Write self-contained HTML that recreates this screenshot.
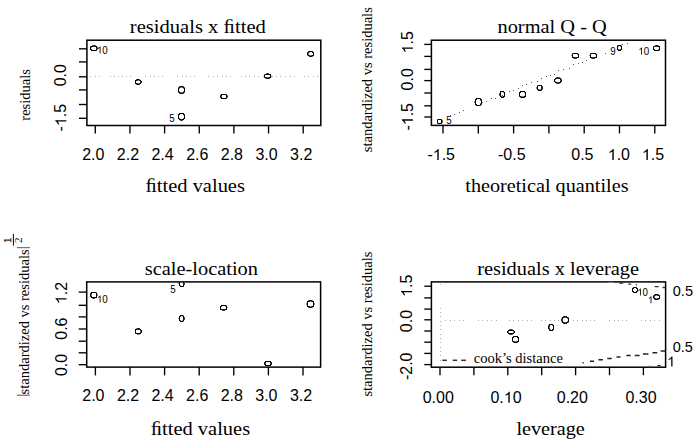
<!DOCTYPE html>
<html><head><meta charset="utf-8"><title>plot</title>
<style>
html,body{margin:0;padding:0;background:#fff;width:699px;height:442px;overflow:hidden}
svg{display:block}
.sf{font-family:"Liberation Serif", serif;fill:#000}
.ss{font-family:"Liberation Sans", sans-serif;fill:#000}
</style></head><body>
<svg width="699" height="442" viewBox="0 0 699 442">
<rect width="699" height="442" fill="#fff"/>
<text class="sf" transform="translate(197.8,32.9) scale(1,0.955)" font-size="20.58972" text-anchor="middle" >residuals x &#xFB01;tted</text>
<path d="M90 76h1v1h-1zM95 76h1v1h-1zM99 76h1v1h-1zM110 76h1v1h-1zM114 76h1v1h-1zM118 76h1v1h-1zM122 76h1v1h-1zM126 76h1v1h-1zM130 76h1v1h-1zM145 76h1v1h-1zM150 76h1v1h-1zM154 76h1v1h-1zM158 76h1v1h-1zM162 76h1v1h-1zM177 76h1v1h-1zM182 76h1v1h-1zM186 76h1v1h-1zM190 76h1v1h-1zM194 76h1v1h-1zM208 76h1v1h-1zM213 76h1v1h-1zM217 76h1v1h-1zM222 76h1v1h-1zM226 76h1v1h-1zM230 76h1v1h-1zM241 76h1v1h-1zM245 76h1v1h-1zM249 76h1v1h-1zM254 76h1v1h-1zM258 76h1v1h-1zM263 76h1v1h-1zM272 76h1v1h-1zM276 76h1v1h-1zM280 76h1v1h-1zM285 76h1v1h-1zM290 76h1v1h-1zM294 76h1v1h-1zM304 76h1v1h-1zM308 76h1v1h-1zM313 76h1v1h-1zM317 76h1v1h-1z" fill="#aeaeae"/>
<rect x="86.9" y="40.2" width="233.9" height="85.3" fill="none" stroke="#000" stroke-width="1.5"/>
<line x1="79" y1="48.8" x2="86.9" y2="48.8" stroke="#000" stroke-width="1.35"/>
<line x1="79" y1="61.9" x2="86.9" y2="61.9" stroke="#000" stroke-width="1.35"/>
<line x1="79" y1="76.8" x2="86.9" y2="76.8" stroke="#000" stroke-width="1.35"/>
<line x1="79" y1="89.9" x2="86.9" y2="89.9" stroke="#000" stroke-width="1.35"/>
<line x1="79" y1="104.5" x2="86.9" y2="104.5" stroke="#000" stroke-width="1.35"/>
<line x1="79" y1="118.3" x2="86.9" y2="118.3" stroke="#000" stroke-width="1.35"/>
<line x1="95.3" y1="125.5" x2="95.3" y2="133.5" stroke="#000" stroke-width="1.35"/>
<line x1="129.95" y1="125.5" x2="129.95" y2="133.5" stroke="#000" stroke-width="1.35"/>
<line x1="164.6" y1="125.5" x2="164.6" y2="133.5" stroke="#000" stroke-width="1.35"/>
<line x1="199.25" y1="125.5" x2="199.25" y2="133.5" stroke="#000" stroke-width="1.35"/>
<line x1="233.89999999999998" y1="125.5" x2="233.89999999999998" y2="133.5" stroke="#000" stroke-width="1.35"/>
<line x1="268.55" y1="125.5" x2="268.55" y2="133.5" stroke="#000" stroke-width="1.35"/>
<line x1="303.2" y1="125.5" x2="303.2" y2="133.5" stroke="#000" stroke-width="1.35"/>
<text class="ss" transform="translate(93.3,160)" font-size="16" text-anchor="middle" >2.0</text>
<text class="ss" transform="translate(127.94999999999999,160)" font-size="16" text-anchor="middle" >2.2</text>
<text class="ss" transform="translate(162.6,160)" font-size="16" text-anchor="middle" >2.4</text>
<text class="ss" transform="translate(197.25,160)" font-size="16" text-anchor="middle" >2.6</text>
<text class="ss" transform="translate(231.89999999999998,160)" font-size="16" text-anchor="middle" >2.8</text>
<text class="ss" transform="translate(266.55,160)" font-size="16" text-anchor="middle" >3.0</text>
<text class="ss" transform="translate(301.2,160)" font-size="16" text-anchor="middle" >3.2</text>
<text class="ss" transform="translate(66.3,75.2) rotate(-90)" font-size="16" text-anchor="middle" >0.0</text>
<g class="ss" transform="translate(66.3,117.7) rotate(-90)"><text font-size="16" text-anchor="middle" >- .5</text><path d="M763 0L583 0L583 1147Q518 1085 412.5 1023Q307 961 223 930L223 1104Q374 1175 487 1276Q600 1377 647 1466L763 1466Z" transform="translate(-8.457,0) scale(0.00781,-0.00751)"/></g>
<text class="sf" transform="translate(29.8,94.9) rotate(-90)" font-size="14.5" text-anchor="middle" >residuals</text>
<text class="sf" transform="translate(195.2,192.3) scale(1,0.955)" font-size="20.460579999999997" text-anchor="middle" >&#xFB01;tted values</text>
<path d="M92 45h1v1h-1zM97 47h1v1h-1z" fill="#4d4d4d"/>
<path d="M93 45h1v1h-1zM94 45h1v1h-1zM93 46h1v1h-1zM94 46h1v1h-1zM96 48h1v1h-1zM97 48h1v1h-1zM96 50h1v1h-1z" fill="#333333"/>
<path d="M95 45h1v1h-1zM90 46h1v1h-1z" fill="#666666"/>
<path d="M91 46h1v1h-1zM92 46h1v1h-1zM95 46h1v1h-1zM96 46h1v1h-1zM90 47h1v1h-1zM96 47h1v1h-1zM90 48h1v1h-1zM90 49h1v1h-1zM96 49h1v1h-1zM91 50h1v1h-1zM92 50h1v1h-1zM93 50h1v1h-1zM94 50h1v1h-1zM95 50h1v1h-1z" fill="#000000"/>
<path d="M91 47h1v1h-1zM97 49h1v1h-1z" fill="#808080"/>
<path d="M91 49h1v1h-1z" fill="#191919"/>
<path d="M136 79h1v1h-1zM137 80h1v1h-1zM137 83h1v1h-1zM136 84h1v1h-1z" fill="#4d4d4d"/>
<path d="M137 79h1v1h-1zM138 79h1v1h-1zM135 80h1v1h-1zM136 80h1v1h-1zM140 80h1v1h-1zM135 81h1v1h-1zM135 82h1v1h-1zM135 83h1v1h-1zM136 83h1v1h-1zM140 83h1v1h-1zM137 84h1v1h-1zM138 84h1v1h-1z" fill="#000000"/>
<path d="M139 79h1v1h-1zM139 80h1v1h-1zM140 81h1v1h-1zM140 82h1v1h-1zM139 83h1v1h-1zM139 84h1v1h-1z" fill="#333333"/>
<path d="M138 80h1v1h-1zM138 83h1v1h-1z" fill="#808080"/>
<path d="M141 81h1v1h-1zM141 82h1v1h-1z" fill="#191919"/>
<path d="M179 86h1v1h-1zM183 86h1v1h-1zM178 87h1v1h-1zM180 87h1v1h-1zM182 87h1v1h-1zM184 87h1v1h-1zM178 92h1v1h-1zM180 92h1v1h-1zM182 92h1v1h-1zM184 92h1v1h-1zM179 93h1v1h-1zM183 93h1v1h-1z" fill="#666666"/>
<path d="M180 86h1v1h-1zM181 86h1v1h-1zM182 86h1v1h-1zM179 87h1v1h-1zM183 87h1v1h-1zM178 88h1v1h-1zM184 88h1v1h-1zM178 89h1v1h-1zM184 89h1v1h-1zM178 90h1v1h-1zM184 90h1v1h-1zM178 91h1v1h-1zM184 91h1v1h-1zM179 92h1v1h-1zM183 92h1v1h-1zM180 93h1v1h-1zM181 93h1v1h-1zM182 93h1v1h-1z" fill="#000000"/>
<path d="M181 87h1v1h-1zM179 88h1v1h-1zM183 88h1v1h-1zM179 91h1v1h-1zM183 91h1v1h-1zM181 92h1v1h-1z" fill="#808080"/>
<path d="M179 113h1v1h-1zM180 113h1v1h-1zM181 113h1v1h-1zM182 113h1v1h-1zM183 113h1v1h-1zM179 114h1v1h-1zM183 114h1v1h-1zM178 115h1v1h-1zM184 115h1v1h-1zM178 116h1v1h-1zM184 116h1v1h-1zM178 117h1v1h-1zM184 117h1v1h-1zM178 118h1v1h-1zM184 118h1v1h-1zM179 119h1v1h-1zM180 119h1v1h-1zM182 119h1v1h-1zM183 119h1v1h-1z" fill="#000000"/>
<path d="M178 114h1v1h-1zM184 114h1v1h-1z" fill="#191919"/>
<path d="M179 118h1v1h-1zM183 118h1v1h-1zM180 120h1v1h-1zM182 120h1v1h-1z" fill="#4d4d4d"/>
<path d="M181 119h1v1h-1zM181 120h1v1h-1z" fill="#333333"/>
<path d="M221 94h1v1h-1zM222 94h1v1h-1zM223 94h1v1h-1zM224 94h1v1h-1zM225 94h1v1h-1zM221 95h1v1h-1zM226 95h1v1h-1zM220 96h1v1h-1zM226 96h1v1h-1zM221 97h1v1h-1zM226 97h1v1h-1zM221 98h1v1h-1zM222 98h1v1h-1zM223 98h1v1h-1zM224 98h1v1h-1zM225 98h1v1h-1z" fill="#000000"/>
<path d="M226 94h1v1h-1zM226 98h1v1h-1z" fill="#4d4d4d"/>
<path d="M220 95h1v1h-1zM227 96h1v1h-1zM220 97h1v1h-1z" fill="#333333"/>
<path d="M227 95h1v1h-1zM227 97h1v1h-1z" fill="#808080"/>
<path d="M221 96h1v1h-1z" fill="#666666"/>
<path d="M266 73h1v1h-1zM264 74h1v1h-1z" fill="#666666"/>
<path d="M267 73h1v1h-1zM264 77h1v1h-1zM266 77h1v1h-1z" fill="#333333"/>
<path d="M268 73h1v1h-1zM268 77h1v1h-1zM269 78h1v1h-1z" fill="#4d4d4d"/>
<path d="M265 74h1v1h-1zM266 74h1v1h-1zM267 74h1v1h-1zM268 74h1v1h-1zM269 74h1v1h-1zM270 74h1v1h-1zM264 75h1v1h-1zM270 75h1v1h-1zM264 76h1v1h-1zM270 76h1v1h-1zM265 77h1v1h-1zM269 77h1v1h-1zM270 77h1v1h-1zM267 78h1v1h-1zM268 78h1v1h-1z" fill="#000000"/>
<path d="M271 76h1v1h-1zM267 77h1v1h-1zM265 78h1v1h-1z" fill="#808080"/>
<path d="M266 78h1v1h-1z" fill="#191919"/>
<path d="M308 51h1v1h-1zM311 55h1v1h-1z" fill="#4d4d4d"/>
<path d="M309 51h1v1h-1zM310 51h1v1h-1zM311 51h1v1h-1zM308 52h1v1h-1zM312 52h1v1h-1zM313 52h1v1h-1zM307 53h1v1h-1zM313 53h1v1h-1zM307 54h1v1h-1zM313 54h1v1h-1zM308 55h1v1h-1zM312 55h1v1h-1zM310 56h1v1h-1z" fill="#000000"/>
<path d="M312 51h1v1h-1zM307 52h1v1h-1zM309 55h1v1h-1z" fill="#333333"/>
<path d="M309 52h1v1h-1zM308 53h1v1h-1zM307 55h1v1h-1zM310 55h1v1h-1z" fill="#808080"/>
<path d="M308 54h1v1h-1zM312 56h1v1h-1z" fill="#666666"/>
<path d="M313 55h1v1h-1zM309 56h1v1h-1zM311 56h1v1h-1z" fill="#191919"/>
<g class="ss idl" transform="translate(96.86,53.59) scale(0.94,1)"><text font-size="10.4" text-anchor="start" > 0</text><path d="M763 0L583 0L583 1147Q518 1085 412.5 1023Q307 961 223 930L223 1104Q374 1175 487 1276Q600 1377 647 1466L763 1466Z" transform="translate(0.000,0) scale(0.00508,-0.00488)"/></g>
<text class="ss idl" transform="translate(169.2,122.49) scale(0.94,1)" font-size="10.4" text-anchor="start" >5</text>
<text class="sf" transform="translate(552.1,33) scale(1,0.955)" font-size="20.4" text-anchor="middle" >normal Q - Q</text>
<path d="M450 115h1v1h-1zM454 114h1v1h-1zM459 112h1v1h-1zM463 110h1v1h-1zM482 102h1v1h-1zM486 101h1v1h-1zM491 98h1v1h-1zM495 98h1v1h-1zM502 95h1v1h-1zM509 91h1v1h-1zM513 90h1v1h-1zM518 88h1v1h-1zM522 85h1v1h-1zM526 84h1v1h-1zM531 82h1v1h-1zM537 81h1v1h-1zM541 78h1v1h-1zM546 76h1v1h-1zM550 75h1v1h-1zM554 74h1v1h-1zM558 70h1v1h-1zM563 69h1v1h-1zM569 68h1v1h-1zM573 64h1v1h-1zM578 63h1v1h-1zM582 62h1v1h-1zM586 60h1v1h-1zM605 53h1v1h-1zM622 44h1v1h-1zM627 43h1v1h-1z" fill="#5a5a5a"/>
<rect x="431.4" y="40.2" width="234.10000000000002" height="85.2" fill="none" stroke="#000" stroke-width="1.5"/>
<line x1="424.3" y1="44.4" x2="431.4" y2="44.4" stroke="#000" stroke-width="1.35"/>
<line x1="424.3" y1="56.4" x2="431.4" y2="56.4" stroke="#000" stroke-width="1.35"/>
<line x1="424.3" y1="69.4" x2="431.4" y2="69.4" stroke="#000" stroke-width="1.35"/>
<line x1="424.3" y1="80.6" x2="431.4" y2="80.6" stroke="#000" stroke-width="1.35"/>
<line x1="424.3" y1="93" x2="431.4" y2="93" stroke="#000" stroke-width="1.35"/>
<line x1="424.3" y1="105.8" x2="431.4" y2="105.8" stroke="#000" stroke-width="1.35"/>
<line x1="424.3" y1="117" x2="431.4" y2="117" stroke="#000" stroke-width="1.35"/>
<line x1="443.0" y1="125.4" x2="443.0" y2="133.4" stroke="#000" stroke-width="1.35"/>
<line x1="478.3" y1="125.4" x2="478.3" y2="133.4" stroke="#000" stroke-width="1.35"/>
<line x1="513.6" y1="125.4" x2="513.6" y2="133.4" stroke="#000" stroke-width="1.35"/>
<line x1="548.9" y1="125.4" x2="548.9" y2="133.4" stroke="#000" stroke-width="1.35"/>
<line x1="584.2" y1="125.4" x2="584.2" y2="133.4" stroke="#000" stroke-width="1.35"/>
<line x1="619.5" y1="125.4" x2="619.5" y2="133.4" stroke="#000" stroke-width="1.35"/>
<line x1="654.8" y1="125.4" x2="654.8" y2="133.4" stroke="#000" stroke-width="1.35"/>
<g class="ss" transform="translate(441.2,160)"><text font-size="16" text-anchor="middle" >- .5</text><path d="M763 0L583 0L583 1147Q518 1085 412.5 1023Q307 961 223 930L223 1104Q374 1175 487 1276Q600 1377 647 1466L763 1466Z" transform="translate(-8.457,0) scale(0.00781,-0.00751)"/></g>
<text class="ss" transform="translate(511.8,160)" font-size="16" text-anchor="middle" >-0.5</text>
<text class="ss" transform="translate(582.4000000000001,160)" font-size="16" text-anchor="middle" >0.5</text>
<g class="ss" transform="translate(618.9000000000001,160)"><text font-size="16" text-anchor="middle" > .0</text><path d="M763 0L583 0L583 1147Q518 1085 412.5 1023Q307 961 223 930L223 1104Q374 1175 487 1276Q600 1377 647 1466L763 1466Z" transform="translate(-11.121,0) scale(0.00781,-0.00751)"/></g>
<g class="ss" transform="translate(653.0,160)"><text font-size="16" text-anchor="middle" > .5</text><path d="M763 0L583 0L583 1147Q518 1085 412.5 1023Q307 961 223 930L223 1104Q374 1175 487 1276Q600 1377 647 1466L763 1466Z" transform="translate(-11.121,0) scale(0.00781,-0.00751)"/></g>
<g class="ss" transform="translate(412.9,42.3) rotate(-90)"><text font-size="16" text-anchor="middle" > .5</text><path d="M763 0L583 0L583 1147Q518 1085 412.5 1023Q307 961 223 930L223 1104Q374 1175 487 1276Q600 1377 647 1466L763 1466Z" transform="translate(-11.121,0) scale(0.00781,-0.00751)"/></g>
<text class="ss" transform="translate(412.9,79.3) rotate(-90)" font-size="16" text-anchor="middle" >0.0</text>
<g class="ss" transform="translate(412.9,116.8) rotate(-90)"><text font-size="16" text-anchor="middle" >- .5</text><path d="M763 0L583 0L583 1147Q518 1085 412.5 1023Q307 961 223 930L223 1104Q374 1175 487 1276Q600 1377 647 1466L763 1466Z" transform="translate(-8.457,0) scale(0.00781,-0.00751)"/></g>
<text class="sf" transform="translate(372.2,79.7) rotate(-90)" font-size="14.5" text-anchor="middle" >standardized vs residuals</text>
<text class="sf" transform="translate(546.9,192.3) scale(1,0.955)" font-size="20.2" text-anchor="middle" >theoretical quantiles</text>
<path d="M437 119h1v1h-1zM437 123h1v1h-1z" fill="#666666"/>
<path d="M438 119h1v1h-1zM439 119h1v1h-1zM440 119h1v1h-1zM437 120h1v1h-1zM441 120h1v1h-1zM437 121h1v1h-1zM441 121h1v1h-1zM437 122h1v1h-1zM441 122h1v1h-1zM438 123h1v1h-1zM439 123h1v1h-1zM440 123h1v1h-1z" fill="#000000"/>
<path d="M441 119h1v1h-1zM442 121h1v1h-1zM441 123h1v1h-1z" fill="#333333"/>
<path d="M442 120h1v1h-1zM442 122h1v1h-1z" fill="#808080"/>
<path d="M476 98h1v1h-1zM477 98h1v1h-1zM478 98h1v1h-1zM479 98h1v1h-1zM475 99h1v1h-1zM480 99h1v1h-1zM475 100h1v1h-1zM481 100h1v1h-1zM475 101h1v1h-1zM481 101h1v1h-1zM475 102h1v1h-1zM481 102h1v1h-1zM475 103h1v1h-1zM481 103h1v1h-1zM475 104h1v1h-1zM480 104h1v1h-1zM476 105h1v1h-1zM477 105h1v1h-1zM478 105h1v1h-1zM479 105h1v1h-1z" fill="#000000"/>
<path d="M480 98h1v1h-1zM480 105h1v1h-1z" fill="#333333"/>
<path d="M476 99h1v1h-1zM476 104h1v1h-1z" fill="#191919"/>
<path d="M481 99h1v1h-1zM481 104h1v1h-1z" fill="#4d4d4d"/>
<path d="M480 100h1v1h-1zM474 101h1v1h-1zM474 102h1v1h-1zM480 103h1v1h-1z" fill="#808080"/>
<path d="M500 91h1v1h-1zM501 91h1v1h-1zM502 91h1v1h-1zM503 91h1v1h-1zM500 92h1v1h-1zM504 92h1v1h-1zM500 93h1v1h-1zM504 93h1v1h-1zM500 94h1v1h-1zM504 94h1v1h-1zM500 95h1v1h-1zM504 95h1v1h-1zM500 96h1v1h-1zM503 96h1v1h-1zM504 96h1v1h-1zM501 97h1v1h-1zM502 97h1v1h-1z" fill="#000000"/>
<path d="M503 92h1v1h-1zM499 95h1v1h-1zM502 96h1v1h-1z" fill="#808080"/>
<path d="M499 93h1v1h-1zM501 96h1v1h-1z" fill="#4d4d4d"/>
<path d="M499 94h1v1h-1z" fill="#333333"/>
<path d="M503 97h1v1h-1z" fill="#191919"/>
<path d="M520 91h1v1h-1zM521 91h1v1h-1zM522 91h1v1h-1zM523 91h1v1h-1zM524 91h1v1h-1zM519 92h1v1h-1zM525 92h1v1h-1zM519 93h1v1h-1zM525 93h1v1h-1zM519 94h1v1h-1zM525 94h1v1h-1zM519 95h1v1h-1zM525 95h1v1h-1zM520 96h1v1h-1zM524 96h1v1h-1zM525 96h1v1h-1zM521 97h1v1h-1zM522 97h1v1h-1zM523 97h1v1h-1z" fill="#000000"/>
<path d="M520 92h1v1h-1z" fill="#191919"/>
<path d="M524 92h1v1h-1z" fill="#4d4d4d"/>
<path d="M519 96h1v1h-1zM524 97h1v1h-1z" fill="#333333"/>
<path d="M521 96h1v1h-1zM520 97h1v1h-1z" fill="#666666"/>
<path d="M522 96h1v1h-1zM523 96h1v1h-1z" fill="#808080"/>
<path d="M537 85h1v1h-1zM538 89h1v1h-1z" fill="#4d4d4d"/>
<path d="M538 85h1v1h-1zM539 85h1v1h-1zM540 85h1v1h-1zM537 86h1v1h-1zM541 86h1v1h-1zM537 87h1v1h-1zM537 88h1v1h-1zM537 89h1v1h-1zM541 89h1v1h-1zM538 90h1v1h-1zM539 90h1v1h-1zM540 90h1v1h-1z" fill="#000000"/>
<path d="M541 85h1v1h-1zM542 87h1v1h-1zM542 88h1v1h-1z" fill="#191919"/>
<path d="M542 86h1v1h-1zM540 89h1v1h-1zM541 90h1v1h-1z" fill="#666666"/>
<path d="M536 87h1v1h-1zM536 88h1v1h-1zM539 89h1v1h-1zM542 89h1v1h-1z" fill="#808080"/>
<path d="M541 87h1v1h-1zM541 88h1v1h-1z" fill="#333333"/>
<path d="M556 77h1v1h-1zM559 77h1v1h-1zM555 79h1v1h-1zM560 80h1v1h-1zM555 81h1v1h-1zM556 83h1v1h-1zM559 83h1v1h-1z" fill="#666666"/>
<path d="M557 77h1v1h-1zM558 77h1v1h-1zM557 78h1v1h-1zM558 78h1v1h-1zM561 79h1v1h-1zM561 81h1v1h-1zM557 82h1v1h-1zM558 82h1v1h-1zM557 83h1v1h-1zM558 83h1v1h-1z" fill="#333333"/>
<path d="M555 78h1v1h-1zM556 78h1v1h-1zM559 78h1v1h-1zM560 78h1v1h-1zM554 79h1v1h-1zM560 79h1v1h-1zM554 80h1v1h-1zM561 80h1v1h-1zM554 81h1v1h-1zM560 81h1v1h-1zM555 82h1v1h-1zM556 82h1v1h-1zM559 82h1v1h-1zM560 82h1v1h-1z" fill="#000000"/>
<path d="M572 53h1v1h-1zM577 54h1v1h-1z" fill="#666666"/>
<path d="M573 53h1v1h-1zM574 53h1v1h-1zM575 53h1v1h-1zM576 53h1v1h-1zM577 53h1v1h-1zM572 54h1v1h-1zM578 54h1v1h-1zM572 55h1v1h-1zM578 55h1v1h-1zM572 56h1v1h-1zM578 56h1v1h-1zM572 57h1v1h-1zM573 57h1v1h-1zM577 57h1v1h-1zM578 57h1v1h-1z" fill="#000000"/>
<path d="M571 55h1v1h-1zM573 58h1v1h-1z" fill="#808080"/>
<path d="M574 57h1v1h-1zM575 57h1v1h-1zM574 58h1v1h-1zM575 58h1v1h-1zM576 58h1v1h-1z" fill="#333333"/>
<path d="M576 57h1v1h-1z" fill="#191919"/>
<path d="M590 53h1v1h-1zM595 54h1v1h-1z" fill="#666666"/>
<path d="M591 53h1v1h-1zM592 53h1v1h-1zM593 53h1v1h-1zM594 53h1v1h-1zM595 53h1v1h-1zM590 54h1v1h-1zM596 54h1v1h-1zM590 55h1v1h-1zM596 55h1v1h-1zM590 56h1v1h-1zM596 56h1v1h-1zM590 57h1v1h-1zM591 57h1v1h-1zM595 57h1v1h-1zM596 57h1v1h-1z" fill="#000000"/>
<path d="M589 55h1v1h-1zM591 58h1v1h-1z" fill="#808080"/>
<path d="M592 57h1v1h-1zM593 57h1v1h-1zM592 58h1v1h-1zM593 58h1v1h-1zM594 58h1v1h-1z" fill="#333333"/>
<path d="M594 57h1v1h-1z" fill="#191919"/>
<path d="M617 45h1v1h-1zM621 45h1v1h-1zM618 46h1v1h-1zM620 46h1v1h-1zM619 49h1v1h-1z" fill="#808080"/>
<path d="M618 45h1v1h-1zM619 45h1v1h-1zM620 45h1v1h-1zM617 46h1v1h-1zM621 46h1v1h-1zM617 47h1v1h-1zM621 47h1v1h-1zM617 48h1v1h-1zM621 48h1v1h-1zM617 49h1v1h-1zM621 49h1v1h-1zM618 50h1v1h-1zM619 50h1v1h-1zM620 50h1v1h-1z" fill="#000000"/>
<path d="M618 49h1v1h-1zM620 49h1v1h-1z" fill="#333333"/>
<path d="M655 45h1v1h-1zM657 45h1v1h-1zM655 46h1v1h-1zM656 46h1v1h-1zM657 46h1v1h-1zM654 49h1v1h-1z" fill="#333333"/>
<path d="M656 45h1v1h-1zM654 46h1v1h-1zM658 46h1v1h-1zM659 46h1v1h-1zM653 47h1v1h-1zM659 47h1v1h-1zM653 48h1v1h-1zM659 48h1v1h-1zM653 49h1v1h-1zM659 49h1v1h-1zM654 50h1v1h-1zM655 50h1v1h-1zM656 50h1v1h-1zM657 50h1v1h-1zM658 50h1v1h-1z" fill="#000000"/>
<path d="M658 45h1v1h-1zM658 49h1v1h-1zM659 50h1v1h-1z" fill="#808080"/>
<path d="M653 46h1v1h-1z" fill="#4d4d4d"/>
<text class="ss idl" transform="translate(446.26,124.03) scale(0.94,1)" font-size="10.4" text-anchor="start" >5</text>
<text class="ss idl" transform="translate(610.21,55.11) scale(0.94,1)" font-size="10.4" text-anchor="start" >9</text>
<g class="ss idl" transform="translate(638.32,54.59) scale(0.94,1)"><text font-size="10.4" text-anchor="start" > 0</text><path d="M763 0L583 0L583 1147Q518 1085 412.5 1023Q307 961 223 930L223 1104Q374 1175 487 1276Q600 1377 647 1466L763 1466Z" transform="translate(0.000,0) scale(0.00508,-0.00488)"/></g>
<text class="sf" transform="translate(201.4,275) scale(1,0.955)" font-size="20.4" text-anchor="middle" >scale-location</text>
<rect x="86.7" y="281.9" width="233.90000000000003" height="85.20000000000005" fill="none" stroke="#000" stroke-width="1.5"/>
<line x1="78.7" y1="292.1" x2="86.7" y2="292.1" stroke="#000" stroke-width="1.35"/>
<line x1="78.7" y1="305.3" x2="86.7" y2="305.3" stroke="#000" stroke-width="1.35"/>
<line x1="78.7" y1="316.9" x2="86.7" y2="316.9" stroke="#000" stroke-width="1.35"/>
<line x1="78.7" y1="329" x2="86.7" y2="329" stroke="#000" stroke-width="1.35"/>
<line x1="78.7" y1="341.2" x2="86.7" y2="341.2" stroke="#000" stroke-width="1.35"/>
<line x1="78.7" y1="352.8" x2="86.7" y2="352.8" stroke="#000" stroke-width="1.35"/>
<line x1="78.7" y1="364.7" x2="86.7" y2="364.7" stroke="#000" stroke-width="1.35"/>
<line x1="95.4" y1="367.1" x2="95.4" y2="375.4" stroke="#000" stroke-width="1.35"/>
<line x1="130.0" y1="367.1" x2="130.0" y2="375.4" stroke="#000" stroke-width="1.35"/>
<line x1="164.60000000000002" y1="367.1" x2="164.60000000000002" y2="375.4" stroke="#000" stroke-width="1.35"/>
<line x1="199.20000000000002" y1="367.1" x2="199.20000000000002" y2="375.4" stroke="#000" stroke-width="1.35"/>
<line x1="233.8" y1="367.1" x2="233.8" y2="375.4" stroke="#000" stroke-width="1.35"/>
<line x1="268.4" y1="367.1" x2="268.4" y2="375.4" stroke="#000" stroke-width="1.35"/>
<line x1="303.0" y1="367.1" x2="303.0" y2="375.4" stroke="#000" stroke-width="1.35"/>
<text class="ss" transform="translate(93.4,400.8)" font-size="16" text-anchor="middle" >2.0</text>
<text class="ss" transform="translate(128.0,400.8)" font-size="16" text-anchor="middle" >2.2</text>
<text class="ss" transform="translate(162.60000000000002,400.8)" font-size="16" text-anchor="middle" >2.4</text>
<text class="ss" transform="translate(197.20000000000002,400.8)" font-size="16" text-anchor="middle" >2.6</text>
<text class="ss" transform="translate(231.8,400.8)" font-size="16" text-anchor="middle" >2.8</text>
<text class="ss" transform="translate(266.4,400.8)" font-size="16" text-anchor="middle" >3.0</text>
<text class="ss" transform="translate(301.0,400.8)" font-size="16" text-anchor="middle" >3.2</text>
<g class="ss" transform="translate(66.5,293) rotate(-90)"><text font-size="16" text-anchor="middle" > .2</text><path d="M763 0L583 0L583 1147Q518 1085 412.5 1023Q307 961 223 930L223 1104Q374 1175 487 1276Q600 1377 647 1466L763 1466Z" transform="translate(-11.121,0) scale(0.00781,-0.00751)"/></g>
<text class="ss" transform="translate(66.5,328.6) rotate(-90)" font-size="16" text-anchor="middle" >0.6</text>
<text class="ss" transform="translate(66.5,364.9) rotate(-90)" font-size="16" text-anchor="middle" >0.0</text>
<text class="sf" transform="translate(200.4,434.6) scale(1,0.955)" font-size="20.460579999999997" text-anchor="middle" >&#xFB01;tted values</text>
<text class="sf" transform="translate(28.5,321.9) rotate(-90)" font-size="14.5" text-anchor="middle" >standardized vs residuals</text>
<line x1="16.8" y1="247.7" x2="29.9" y2="247.7" stroke="#555" stroke-width="1.0"/>
<line x1="16.8" y1="395.2" x2="29.9" y2="395.2" stroke="#555" stroke-width="1.0"/>
<line x1="13.4" y1="234" x2="13.4" y2="245.6" stroke="#000" stroke-width="1.0"/>
<text class="sf" transform="translate(10.6,240.3) rotate(-90)" font-size="10.8" text-anchor="middle" stroke="#000" stroke-width="0.3">1</text>
<text class="sf" transform="translate(21.9,240.3) rotate(-90)" font-size="11" text-anchor="middle" >2</text>
<clipPath id="c3"><rect x="86.7" y="281.9" width="233.90000000000003" height="85.20000000000005"/></clipPath>
<g clip-path="url(#c3)">
<path d="M91 292h1v1h-1zM92 292h1v1h-1zM93 292h1v1h-1zM94 292h1v1h-1zM95 292h1v1h-1zM91 293h1v1h-1zM96 293h1v1h-1zM90 294h1v1h-1zM96 294h1v1h-1zM90 295h1v1h-1zM96 295h1v1h-1zM91 296h1v1h-1zM96 296h1v1h-1zM91 297h1v1h-1zM92 297h1v1h-1zM93 297h1v1h-1zM94 297h1v1h-1zM95 297h1v1h-1zM96 297h1v1h-1z" fill="#000000"/>
<path d="M96 292h1v1h-1z" fill="#666666"/>
<path d="M90 293h1v1h-1zM93 298h1v1h-1z" fill="#333333"/>
<path d="M91 294h1v1h-1zM97 294h1v1h-1zM91 295h1v1h-1zM97 295h1v1h-1zM92 298h1v1h-1z" fill="#808080"/>
<path d="M90 296h1v1h-1z" fill="#191919"/>
<path d="M94 298h1v1h-1z" fill="#4d4d4d"/>
<path d="M136 328h1v1h-1zM140 331h1v1h-1zM137 334h1v1h-1zM138 334h1v1h-1zM139 334h1v1h-1z" fill="#808080"/>
<path d="M137 328h1v1h-1zM139 328h1v1h-1zM137 329h1v1h-1zM138 329h1v1h-1zM140 332h1v1h-1zM135 333h1v1h-1z" fill="#333333"/>
<path d="M138 328h1v1h-1zM135 329h1v1h-1zM136 329h1v1h-1zM140 329h1v1h-1zM135 330h1v1h-1zM141 330h1v1h-1zM135 331h1v1h-1zM141 331h1v1h-1zM135 332h1v1h-1zM136 333h1v1h-1zM137 333h1v1h-1zM138 333h1v1h-1zM139 333h1v1h-1zM140 333h1v1h-1z" fill="#000000"/>
<path d="M139 329h1v1h-1zM141 332h1v1h-1z" fill="#191919"/>
<path d="M140 330h1v1h-1z" fill="#4d4d4d"/>
<path d="M180 315h1v1h-1zM181 315h1v1h-1zM182 315h1v1h-1zM179 316h1v1h-1zM183 316h1v1h-1zM179 317h1v1h-1zM183 317h1v1h-1zM179 318h1v1h-1zM179 319h1v1h-1zM183 319h1v1h-1zM179 320h1v1h-1zM183 320h1v1h-1zM180 321h1v1h-1zM181 321h1v1h-1zM182 321h1v1h-1z" fill="#000000"/>
<path d="M183 315h1v1h-1zM182 316h1v1h-1zM178 318h1v1h-1zM182 320h1v1h-1zM183 321h1v1h-1z" fill="#808080"/>
<path d="M180 316h1v1h-1zM184 317h1v1h-1zM184 319h1v1h-1zM180 320h1v1h-1z" fill="#4d4d4d"/>
<path d="M183 318h1v1h-1zM184 318h1v1h-1z" fill="#333333"/>
<path d="M180 280h1v1h-1zM181 280h1v1h-1zM182 280h1v1h-1zM179 281h1v1h-1zM183 281h1v1h-1zM179 282h1v1h-1zM183 282h1v1h-1zM179 283h1v1h-1zM179 284h1v1h-1zM179 285h1v1h-1zM183 285h1v1h-1zM180 286h1v1h-1zM181 286h1v1h-1zM182 286h1v1h-1z" fill="#000000"/>
<path d="M180 281h1v1h-1zM183 283h1v1h-1zM184 283h1v1h-1zM183 286h1v1h-1z" fill="#333333"/>
<path d="M181 281h1v1h-1zM178 283h1v1h-1zM180 285h1v1h-1z" fill="#808080"/>
<path d="M182 281h1v1h-1zM184 282h1v1h-1zM184 284h1v1h-1z" fill="#4d4d4d"/>
<path d="M183 284h1v1h-1z" fill="#191919"/>
<path d="M221 305h1v1h-1zM222 305h1v1h-1zM223 305h1v1h-1zM224 305h1v1h-1zM225 305h1v1h-1zM220 306h1v1h-1zM226 306h1v1h-1zM220 307h1v1h-1zM226 307h1v1h-1zM220 308h1v1h-1zM226 308h1v1h-1zM221 309h1v1h-1zM222 309h1v1h-1zM225 309h1v1h-1zM226 309h1v1h-1z" fill="#000000"/>
<path d="M226 305h1v1h-1zM225 306h1v1h-1zM227 307h1v1h-1z" fill="#808080"/>
<path d="M221 306h1v1h-1zM222 310h1v1h-1z" fill="#4d4d4d"/>
<path d="M220 309h1v1h-1zM223 309h1v1h-1zM223 310h1v1h-1zM224 310h1v1h-1z" fill="#333333"/>
<path d="M224 309h1v1h-1z" fill="#191919"/>
<path d="M265 361h1v1h-1zM266 361h1v1h-1zM267 361h1v1h-1zM268 361h1v1h-1zM269 361h1v1h-1zM270 361h1v1h-1zM265 362h1v1h-1zM270 362h1v1h-1zM264 363h1v1h-1zM271 363h1v1h-1zM265 364h1v1h-1zM270 364h1v1h-1zM265 365h1v1h-1zM266 365h1v1h-1zM267 365h1v1h-1zM268 365h1v1h-1zM269 365h1v1h-1zM270 365h1v1h-1z" fill="#000000"/>
<path d="M264 362h1v1h-1zM271 362h1v1h-1zM264 364h1v1h-1zM271 364h1v1h-1z" fill="#333333"/>
<path d="M265 363h1v1h-1zM270 363h1v1h-1z" fill="#666666"/>
<path d="M308 300h1v1h-1zM312 300h1v1h-1zM310 301h1v1h-1zM306 303h1v1h-1zM314 303h1v1h-1zM306 304h1v1h-1zM314 304h1v1h-1zM310 306h1v1h-1zM308 307h1v1h-1zM312 307h1v1h-1z" fill="#808080"/>
<path d="M309 300h1v1h-1zM311 300h1v1h-1zM309 307h1v1h-1zM311 307h1v1h-1z" fill="#191919"/>
<path d="M310 300h1v1h-1zM307 301h1v1h-1zM308 301h1v1h-1zM312 301h1v1h-1zM313 301h1v1h-1zM307 302h1v1h-1zM313 302h1v1h-1zM307 303h1v1h-1zM313 303h1v1h-1zM307 304h1v1h-1zM313 304h1v1h-1zM307 305h1v1h-1zM313 305h1v1h-1zM307 306h1v1h-1zM308 306h1v1h-1zM312 306h1v1h-1zM313 306h1v1h-1zM310 307h1v1h-1z" fill="#000000"/>
<path d="M309 301h1v1h-1zM311 301h1v1h-1zM309 306h1v1h-1zM311 306h1v1h-1z" fill="#333333"/>
</g>
<g class="ss idl" transform="translate(96.91,302.6) scale(0.94,1)"><text font-size="10.4" text-anchor="start" > 0</text><path d="M763 0L583 0L583 1147Q518 1085 412.5 1023Q307 961 223 930L223 1104Q374 1175 487 1276Q600 1377 647 1466L763 1466Z" transform="translate(0.000,0) scale(0.00508,-0.00488)"/></g>
<text class="ss idl" transform="translate(170.33,293.3) scale(0.94,1)" font-size="10.4" text-anchor="start" >5</text>
<text class="sf" transform="translate(558.1,274.8) scale(1,0.955)" font-size="20.4" text-anchor="middle" >residuals x leverage</text>
<path d="M445 320h1v1h-1zM450 320h1v1h-1zM454 320h1v1h-1zM459 320h1v1h-1zM463 320h1v1h-1zM478 320h1v1h-1zM482 320h1v1h-1zM487 320h1v1h-1zM491 320h1v1h-1zM496 320h1v1h-1zM509 320h1v1h-1zM513 320h1v1h-1zM518 320h1v1h-1zM522 320h1v1h-1zM527 320h1v1h-1zM531 320h1v1h-1zM541 320h1v1h-1zM545 320h1v1h-1zM550 320h1v1h-1zM554 320h1v1h-1zM558 320h1v1h-1zM573 320h1v1h-1zM577 320h1v1h-1zM582 320h1v1h-1zM586 320h1v1h-1zM590 320h1v1h-1zM594 320h1v1h-1zM609 320h1v1h-1zM614 320h1v1h-1zM618 320h1v1h-1zM622 320h1v1h-1zM626 320h1v1h-1zM641 320h1v1h-1zM645 320h1v1h-1zM650 320h1v1h-1zM654 320h1v1h-1zM659 320h1v1h-1z" fill="#aeaeae"/>
<path d="M440 308h1v1h-1zM440 312h1v1h-1zM440 316h1v1h-1zM440 321h1v1h-1zM440 325h1v1h-1zM440 329h1v1h-1zM440 334h1v1h-1zM440 338h1v1h-1zM440 342h1v1h-1zM440 347h1v1h-1zM440 351h1v1h-1zM440 355h1v1h-1zM440 360h1v1h-1zM440 284h1v1h-1z" fill="#aeaeae"/>
<rect x="431.4" y="281.9" width="234.20000000000005" height="85.30000000000001" fill="none" stroke="#000" stroke-width="1.5"/>
<line x1="424.3" y1="286.2" x2="431.4" y2="286.2" stroke="#000" stroke-width="1.35"/>
<line x1="424.3" y1="297.9" x2="431.4" y2="297.9" stroke="#000" stroke-width="1.35"/>
<line x1="424.3" y1="309.1" x2="431.4" y2="309.1" stroke="#000" stroke-width="1.35"/>
<line x1="424.3" y1="319.8" x2="431.4" y2="319.8" stroke="#000" stroke-width="1.35"/>
<line x1="424.3" y1="331" x2="431.4" y2="331" stroke="#000" stroke-width="1.35"/>
<line x1="424.3" y1="342.2" x2="431.4" y2="342.2" stroke="#000" stroke-width="1.35"/>
<line x1="424.3" y1="353.4" x2="431.4" y2="353.4" stroke="#000" stroke-width="1.35"/>
<line x1="424.3" y1="364.6" x2="431.4" y2="364.6" stroke="#000" stroke-width="1.35"/>
<line x1="440.0" y1="367.2" x2="440.0" y2="375.2" stroke="#000" stroke-width="1.35"/>
<line x1="473.9" y1="367.2" x2="473.9" y2="375.2" stroke="#000" stroke-width="1.35"/>
<line x1="507.8" y1="367.2" x2="507.8" y2="375.2" stroke="#000" stroke-width="1.35"/>
<line x1="541.7" y1="367.2" x2="541.7" y2="375.2" stroke="#000" stroke-width="1.35"/>
<line x1="575.6" y1="367.2" x2="575.6" y2="375.2" stroke="#000" stroke-width="1.35"/>
<line x1="609.5" y1="367.2" x2="609.5" y2="375.2" stroke="#000" stroke-width="1.35"/>
<line x1="643.4" y1="367.2" x2="643.4" y2="375.2" stroke="#000" stroke-width="1.35"/>
<text class="ss" transform="translate(438.2,402.8)" font-size="16" text-anchor="middle" >0.00</text>
<g class="ss" transform="translate(506.0,402.8)"><text font-size="16" text-anchor="middle" >0. 0</text><path d="M763 0L583 0L583 1147Q518 1085 412.5 1023Q307 961 223 930L223 1104Q374 1175 487 1276Q600 1377 647 1466L763 1466Z" transform="translate(-2.227,0) scale(0.00781,-0.00751)"/></g>
<text class="ss" transform="translate(572.3000000000001,402.8)" font-size="16" text-anchor="middle" >0.20</text>
<text class="ss" transform="translate(641.0,402.8)" font-size="16" text-anchor="middle" >0.30</text>
<g class="ss" transform="translate(412.1,285.8) rotate(-90)"><text font-size="16" text-anchor="middle" > .5</text><path d="M763 0L583 0L583 1147Q518 1085 412.5 1023Q307 961 223 930L223 1104Q374 1175 487 1276Q600 1377 647 1466L763 1466Z" transform="translate(-11.121,0) scale(0.00781,-0.00751)"/></g>
<text class="ss" transform="translate(412.1,321) rotate(-90)" font-size="16" text-anchor="middle" >0.0</text>
<text class="ss" transform="translate(412.1,366.3) rotate(-90)" font-size="16" text-anchor="middle" >-2.0</text>
<text class="sf" transform="translate(372.2,324.1) rotate(-90)" font-size="14.5" text-anchor="middle" >standardized vs residuals</text>
<text class="sf" transform="translate(550.6,434.7) scale(1,0.955)" font-size="20.2" text-anchor="middle" >leverage</text>
<line x1="442.3" y1="360.3" x2="446.9" y2="360.3" stroke="#333" stroke-width="1.5"/>
<line x1="452.7" y1="360.3" x2="457.1" y2="360.3" stroke="#333" stroke-width="1.5"/>
<line x1="461.2" y1="360.3" x2="465.9" y2="360.3" stroke="#333" stroke-width="1.5"/>
<text class="sf" transform="translate(473.7,363) scale(1,0.955)" font-size="14.55" text-anchor="start" >cook&#8217;s distance</text>
<clipPath id="c4"><rect x="431.4" y="281.9" width="234.20000000000005" height="85.30000000000001"/></clipPath>
<g clip-path="url(#c4)">
<line x1="619.2" y1="283.20000000000005" x2="623.2" y2="283.20000000000005" stroke="#333" stroke-width="1.3"/>
<line x1="628.3" y1="284.1" x2="631.2" y2="284.1" stroke="#333" stroke-width="1.3"/>
<line x1="635.8" y1="284.65" x2="637.0" y2="284.65" stroke="#333" stroke-width="1.3"/>
<line x1="654.6" y1="286.6" x2="658.6" y2="286.6" stroke="#333" stroke-width="1.3"/>
<line x1="662.6" y1="287.5" x2="665" y2="287.5" stroke="#333" stroke-width="1.3"/>
<line x1="608.5" y1="282.3" x2="613" y2="282.5" stroke="#999" stroke-width="1.0"/>
<line x1="582.6" y1="362.85" x2="583.8" y2="362.85" stroke="#222" stroke-width="1.5"/>
<line x1="590" y1="361.35" x2="594" y2="361.35" stroke="#222" stroke-width="1.5"/>
<line x1="598.4" y1="359.75" x2="602.9" y2="359.75" stroke="#222" stroke-width="1.5"/>
<line x1="607.3" y1="358.6" x2="611.7" y2="358.6" stroke="#222" stroke-width="1.5"/>
<line x1="616.5" y1="357.05" x2="620.5" y2="357.05" stroke="#222" stroke-width="1.5"/>
<line x1="626.4" y1="355.6" x2="630.7" y2="355.6" stroke="#222" stroke-width="1.5"/>
<line x1="634.8" y1="355.4" x2="639.6" y2="355.4" stroke="#222" stroke-width="1.5"/>
<line x1="643" y1="354.05" x2="648.4" y2="354.05" stroke="#222" stroke-width="1.5"/>
<line x1="652.5" y1="352.65" x2="657.2" y2="352.65" stroke="#222" stroke-width="1.5"/>
<line x1="660.6" y1="351.1" x2="665" y2="351.1" stroke="#222" stroke-width="1.5"/>
<line x1="648.4" y1="366.2" x2="651" y2="366.0" stroke="#888" stroke-width="1.0"/>
<line x1="657.2" y1="365.8" x2="660.6" y2="365.5" stroke="#333" stroke-width="1.3"/>
<path d="M509 329h1v1h-1zM512 329h1v1h-1zM509 334h1v1h-1zM512 334h1v1h-1z" fill="#808080"/>
<path d="M510 329h1v1h-1zM511 329h1v1h-1zM510 334h1v1h-1zM511 334h1v1h-1z" fill="#333333"/>
<path d="M508 330h1v1h-1zM509 330h1v1h-1zM510 330h1v1h-1zM511 330h1v1h-1zM512 330h1v1h-1zM513 330h1v1h-1zM507 331h1v1h-1zM514 331h1v1h-1zM507 332h1v1h-1zM514 332h1v1h-1zM508 333h1v1h-1zM509 333h1v1h-1zM510 333h1v1h-1zM511 333h1v1h-1zM512 333h1v1h-1zM513 333h1v1h-1z" fill="#000000"/>
<path d="M508 331h1v1h-1zM513 331h1v1h-1zM508 332h1v1h-1zM513 332h1v1h-1z" fill="#666666"/>
<path d="M513 336h1v1h-1z" fill="#333333"/>
<path d="M514 336h1v1h-1zM515 336h1v1h-1zM516 336h1v1h-1zM517 336h1v1h-1zM513 337h1v1h-1zM517 337h1v1h-1zM518 337h1v1h-1zM512 338h1v1h-1zM518 338h1v1h-1zM512 339h1v1h-1zM518 339h1v1h-1zM512 340h1v1h-1zM518 340h1v1h-1zM513 341h1v1h-1zM517 341h1v1h-1zM518 341h1v1h-1zM514 342h1v1h-1zM515 342h1v1h-1zM516 342h1v1h-1z" fill="#000000"/>
<path d="M512 337h1v1h-1z" fill="#191919"/>
<path d="M512 341h1v1h-1zM514 341h1v1h-1z" fill="#4d4d4d"/>
<path d="M515 341h1v1h-1zM513 342h1v1h-1z" fill="#808080"/>
<path d="M516 341h1v1h-1zM517 342h1v1h-1z" fill="#666666"/>
<path d="M549 324h1v1h-1zM550 324h1v1h-1zM551 324h1v1h-1zM552 324h1v1h-1zM549 325h1v1h-1zM553 325h1v1h-1zM548 326h1v1h-1zM553 326h1v1h-1zM548 327h1v1h-1zM553 327h1v1h-1zM553 328h1v1h-1zM549 329h1v1h-1zM553 329h1v1h-1zM550 330h1v1h-1zM551 330h1v1h-1zM552 330h1v1h-1z" fill="#000000"/>
<path d="M548 325h1v1h-1zM552 325h1v1h-1z" fill="#666666"/>
<path d="M549 326h1v1h-1zM549 330h1v1h-1z" fill="#4d4d4d"/>
<path d="M549 327h1v1h-1zM550 329h1v1h-1z" fill="#808080"/>
<path d="M548 328h1v1h-1zM552 329h1v1h-1z" fill="#191919"/>
<path d="M549 328h1v1h-1z" fill="#333333"/>
<path d="M563 316h1v1h-1zM564 317h1v1h-1zM564 322h1v1h-1zM563 323h1v1h-1z" fill="#4d4d4d"/>
<path d="M564 316h1v1h-1zM565 316h1v1h-1zM562 317h1v1h-1zM563 317h1v1h-1zM567 317h1v1h-1zM562 318h1v1h-1zM568 318h1v1h-1zM568 319h1v1h-1zM568 320h1v1h-1zM562 321h1v1h-1zM568 321h1v1h-1zM562 322h1v1h-1zM563 322h1v1h-1zM567 322h1v1h-1zM564 323h1v1h-1zM565 323h1v1h-1z" fill="#000000"/>
<path d="M566 316h1v1h-1zM561 319h1v1h-1zM562 319h1v1h-1zM561 320h1v1h-1zM562 320h1v1h-1zM566 323h1v1h-1z" fill="#333333"/>
<path d="M565 317h1v1h-1zM568 317h1v1h-1zM565 322h1v1h-1zM568 322h1v1h-1z" fill="#808080"/>
<path d="M566 317h1v1h-1zM566 322h1v1h-1z" fill="#191919"/>
<path d="M561 318h1v1h-1zM567 318h1v1h-1zM561 321h1v1h-1zM567 321h1v1h-1z" fill="#666666"/>
<path d="M633 287h1v1h-1zM636 287h1v1h-1zM632 288h1v1h-1zM637 288h1v1h-1zM632 291h1v1h-1zM637 291h1v1h-1zM633 292h1v1h-1zM636 292h1v1h-1z" fill="#191919"/>
<path d="M634 287h1v1h-1zM635 287h1v1h-1zM633 288h1v1h-1zM636 288h1v1h-1zM632 289h1v1h-1zM637 289h1v1h-1zM632 290h1v1h-1zM637 290h1v1h-1zM633 291h1v1h-1zM636 291h1v1h-1zM634 292h1v1h-1zM635 292h1v1h-1z" fill="#000000"/>
<path d="M654 294h1v1h-1zM653 295h1v1h-1zM656 295h1v1h-1zM653 298h1v1h-1zM656 298h1v1h-1zM654 299h1v1h-1z" fill="#808080"/>
<path d="M655 294h1v1h-1zM656 294h1v1h-1zM657 294h1v1h-1zM654 295h1v1h-1zM658 295h1v1h-1zM653 296h1v1h-1zM659 296h1v1h-1zM653 297h1v1h-1zM659 297h1v1h-1zM654 298h1v1h-1zM658 298h1v1h-1zM655 299h1v1h-1zM656 299h1v1h-1zM657 299h1v1h-1z" fill="#000000"/>
<path d="M658 294h1v1h-1zM657 295h1v1h-1zM654 296h1v1h-1zM654 297h1v1h-1zM657 298h1v1h-1zM658 299h1v1h-1z" fill="#666666"/>
<path d="M655 295h1v1h-1zM655 298h1v1h-1z" fill="#4d4d4d"/>
<path d="M659 295h1v1h-1zM659 298h1v1h-1z" fill="#191919"/>
</g>
<g class="ss idl" transform="translate(637.18,295.59) scale(0.94,1)"><text font-size="10.4" text-anchor="start" > 0</text><path d="M763 0L583 0L583 1147Q518 1085 412.5 1023Q307 961 223 930L223 1104Q374 1175 487 1276Q600 1377 647 1466L763 1466Z" transform="translate(0.000,0) scale(0.00508,-0.00488)"/></g>
<g class="ss idl" transform="translate(647.83,303.37) scale(0.94,1)"><text font-size="10.4" text-anchor="start" > </text><path d="M763 0L583 0L583 1147Q518 1085 412.5 1023Q307 961 223 930L223 1104Q374 1175 487 1276Q600 1377 647 1466L763 1466Z" transform="translate(0.000,0) scale(0.00508,-0.00488)"/></g>
<text class="ss" transform="translate(672.8,295.9)" font-size="14.5" text-anchor="start" >0.5</text>
<text class="ss" transform="translate(672.7,352)" font-size="14.5" text-anchor="start" >0.5</text>
<g class="ss" transform="translate(667.1,366.4)"><text font-size="14.5" text-anchor="start" > </text><path d="M763 0L583 0L583 1147Q518 1085 412.5 1023Q307 961 223 930L223 1104Q374 1175 487 1276Q600 1377 647 1466L763 1466Z" transform="translate(0.000,0) scale(0.00708,-0.00680)"/></g>
</svg>
</body></html>
